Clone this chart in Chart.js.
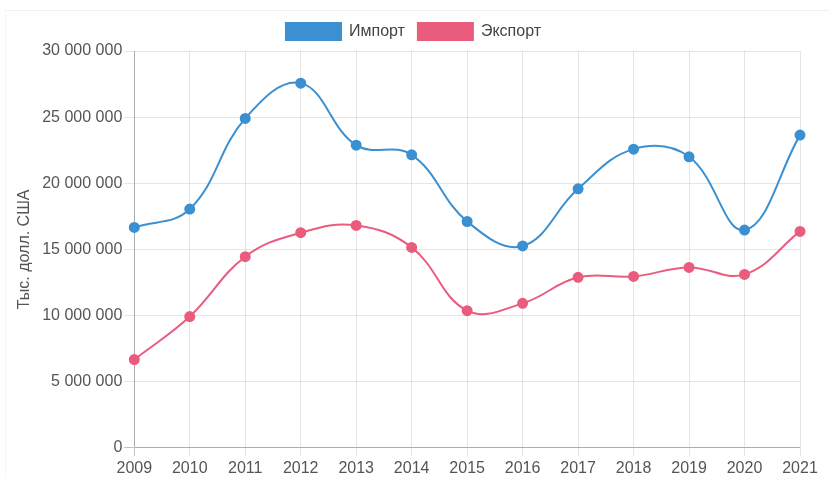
<!DOCTYPE html>
<html>
<head>
<meta charset="utf-8">
<script src="https://cdn.jsdelivr.net/npm/chart.js@4"></script>
<style>
    html, body { margin: 0; padding: 0; background: #fff; overflow: hidden; }
    #box {
        position: absolute; left: 5px; top: 10px; width: 823px; height: 470px;
        border-top: 1px solid #f0f0f0; border-left: 1px solid #f6f6f6;
    }
</style>
</head>
<body>
<div id="box"><canvas id="lineChart"></canvas></div>
<script>
    // данные
    var years = ["2009", "2010", "2011", "2012", "2013", "2014", "2015", "2016", "2017", "2018", "2019", "2020", "2021"];
    var importData = [16660000, 18050000, 24900000, 27570000, 22880000, 22150000, 17110000, 15260000, 19580000, 22580000, 22000000, 16460000, 23640000];
    var exportData = [6670000, 9920000, 14450000, 16260000, 16810000, 15150000, 10370000, 10920000, 12890000, 12960000, 13640000, 13110000, 16360000];
    var yTicks = [0, 5000000, 10000000, 15000000, 20000000, 25000000, 30000000];

    var blue = '#3a90d1';
    var pink = '#ea5c7d';

    var fmt = function (v) {
        return String(v).replace(/\B(?=(\d{3})+(?!\d))/g, ' ');
    };

    // сдвиг легенды к центру холста
    var legendShift = {
        id: 'legendShift',
        afterLayout: function (chart) {
            chart.legend.left += 6;
            chart.legend.right += 6;
            chart.legend.top -= 1;
            chart.legend.bottom -= 1;
        }
    };

    Chart.defaults.font.family = "'Liberation Sans', Arial, sans-serif";
    Chart.defaults.font.size = 16;
    Chart.defaults.color = '#555';

    var lineData = {
        labels: years,
        datasets: [
            {
                label: "Импорт",
                data: importData,
                borderColor: blue,
                backgroundColor: blue,
                pointBackgroundColor: blue,
                pointBorderColor: blue,
                pointRadius: 4.5,
                borderWidth: 2,
                tension: 0.4,
                fill: false
            },
            {
                label: "Экспорт",
                data: exportData,
                borderColor: pink,
                backgroundColor: pink,
                pointBackgroundColor: pink,
                pointBorderColor: pink,
                pointRadius: 4.5,
                borderWidth: 2,
                tension: 0.4,
                fill: false
            }
        ]
    };

    var lineOptions = {
        responsive: true,
        maintainAspectRatio: false,
        animation: false,
        layout: { padding: { left: 9, right: 29, top: 0, bottom: 0 } },
        plugins: {
            legend: {
                labels: { boxWidth: 55, boxHeight: 17, padding: 13, color: '#444' }
            },
            tooltip: { enabled: false }
        },
        scales: {
            x: {
                grid: {
                    color: function (c) { return c.index === 0 ? 'rgba(0,0,0,0.25)' : 'rgba(0,0,0,0.1)'; },
                    tickLength: 8
                },
                ticks: { maxRotation: 0, autoSkip: false, padding: 3 }
            },
            y: {
                min: 0,
                max: 30000000,
                afterBuildTicks: function (axis) {
                    axis.ticks = yTicks.map(function (v) { return { value: v }; });
                },
                grid: {
                    color: function (c) { return c.tick && c.tick.value === 0 ? 'rgba(0,0,0,0.25)' : 'rgba(0,0,0,0.1)'; },
                    tickLength: 10
                },
                ticks: { callback: function (v) { return fmt(v); }, padding: 2 },
                title: { display: true, text: 'Тыс. долл. США', padding: { top: 0, bottom: 6 } }
            }
        }
    };

    var ctx = document.getElementById("lineChart").getContext("2d");
    new Chart(ctx, {type: 'line', data: lineData, options: lineOptions, plugins: [legendShift]});
</script>
</body>
</html>
